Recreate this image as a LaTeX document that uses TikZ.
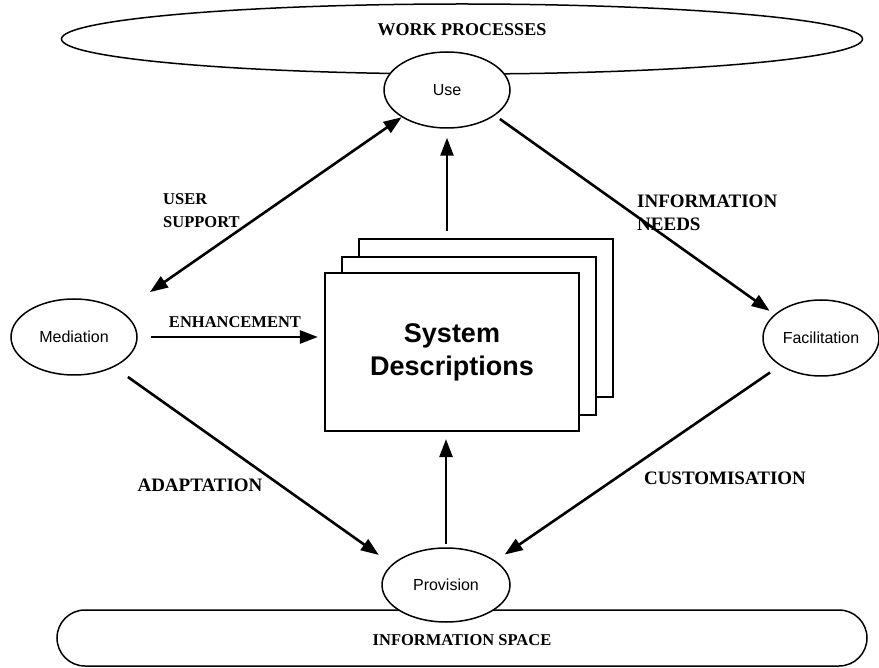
\documentclass[tikz,border=0pt]{standalone}
\usepackage{fontspec}
\setmainfont{Liberation Serif}
\newfontfamily\helv{Liberation Sans}
\usetikzlibrary{shapes.geometric,arrows.meta}

\begin{document}
\begin{tikzpicture}[x=1pt,y=-1pt,
    place/.style={ellipse,draw,line width=1.5pt,fill=white,minimum width=126pt,minimum height=76pt,inner sep=0pt,font=\helv\fontsize{16}{19}\selectfont},
    lbl/.style={font=\bfseries\fontsize{16.5}{23}\selectfont,align=left,inner sep=0pt},
    biglbl/.style={lbl,font=\bfseries\fontsize{19}{23}\selectfont},
    sheet/.style={draw,line width=2.2pt,fill=white,minimum width=254pt,minimum height=158pt,inner sep=0pt},
    flow/.style={line width=2.6pt,-{Triangle[length=18pt,width=13pt]}}]
  \useasboundingbox (0,0) rectangle (879,668);
  % the two spaces
  \node[ellipse,draw,line width=1.5pt,minimum width=801pt,minimum height=70pt] (work) at (462,39) {};
  \node[font=\bfseries\fontsize{18}{22}\selectfont] (worklbl) at (462,30) {WORK PROCESSES};
  \draw[line width=1.5pt,rounded corners=28pt] (57,610) rectangle (867,666);
  \node[font=\bfseries\fontsize{16.5}{22}\selectfont] (infolbl) at (462,640) {INFORMATION SPACE};
  % the stack of descriptions
  \node[sheet] (back) at (486,318) {};
  \node[sheet] (mid) at (469,336) {};
  \node[sheet,align=center,font=\helv\bfseries\fontsize{27}{33}\selectfont] (front) at (452,352) {System\\Descriptions};
  % the four activities
  \node[place] (use) at (447,90) {Use};
  \node[place] (med) at (74,337) {Mediation};
  \node[place,minimum width=116pt] (fac) at (821,338) {Facilitation};
  \node[place,minimum width=128pt,minimum height=74pt] (prov) at (446,585) {Provision};
  % connectors
  \draw[line width=2.6pt,{Triangle[length=18pt,width=13pt]}-{Triangle[length=18pt,width=13pt]},shorten >=34pt] (use.211) -- (med.28);
  \draw[flow,shorten <=6pt,shorten >=6pt] (use.332) -- (fac.153);
  \draw[flow,shorten <=12pt,shorten >=11pt] (fac.214) -- (prov.26);
  \draw[flow,shorten <=17pt,shorten >=16pt] (med.323) -- (prov.159);
  \draw[flow,shorten <=13pt,shorten >=6pt] (med) -- (med -| front.west);
  \draw[flow,shorten <=7pt,shorten >=9pt] (use |- back.north) -- (use.south);
  \draw[flow,shorten <=3pt,shorten >=7pt] (prov.north) -- (prov |- front.south);
  % labels
  \node[lbl,anchor=west] (userlbl) at (163,211) {USER\\SUPPORT};
  \node[biglbl,anchor=west] (needlbl) at (637,213) {INFORMATION\\NEEDS};
  \node[lbl] (enhlbl) at (235,322) {ENHANCEMENT};
  \node[biglbl] (adalbl) at (200,485) {ADAPTATION};
  \node[biglbl] (cuslbl) at (725,478) {CUSTOMISATION};
\end{tikzpicture}
\end{document}
